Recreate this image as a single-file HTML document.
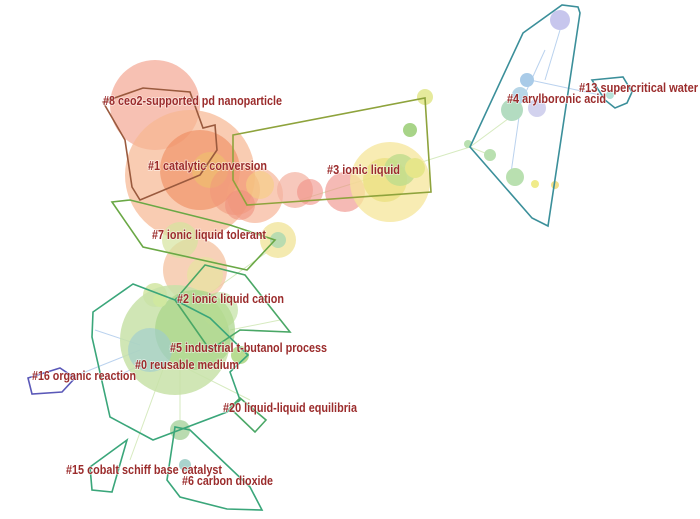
<!DOCTYPE html>
<html><head><meta charset="utf-8"><style>
html,body{margin:0;padding:0;background:#fff;}
svg{display:block}
text.l{font-family:"Liberation Sans",sans-serif;font-weight:bold;font-size:12.5px;fill:#9b2c2c;stroke:#ffffff;stroke-width:1.5px;stroke-opacity:0.6;paint-order:stroke;}
</style></head><body>
<svg width="700" height="519" viewBox="0 0 700 519" xmlns="http://www.w3.org/2000/svg">
<g stroke="#cde6b0" stroke-width="1" opacity="0.8" fill="none">
<line x1="300" y1="200" x2="470" y2="147"/>
<line x1="470" y1="147" x2="520" y2="110"/>
<line x1="470" y1="147" x2="490" y2="155"/>
<line x1="200" y1="300" x2="270" y2="250"/>
<line x1="230" y1="330" x2="280" y2="320"/>
<line x1="180" y1="360" x2="180" y2="430"/>
<line x1="170" y1="350" x2="130" y2="460"/>
<line x1="190" y1="370" x2="250" y2="400"/>
</g>
<g stroke="#a9c7ea" stroke-width="1" opacity="0.8" fill="none">
<line x1="140" y1="350" x2="70" y2="378"/>
<line x1="140" y1="345" x2="95" y2="330"/>
<line x1="150" y1="360" x2="110" y2="380"/>
<line x1="545" y1="50" x2="520" y2="105"/>
<line x1="560" y1="30" x2="545" y2="80"/>
<line x1="530" y1="80" x2="600" y2="95"/>
<line x1="520" y1="110" x2="510" y2="180"/>
</g>
<g>
<circle cx="155" cy="105" r="45" fill="#f3a08a" opacity="0.65"/>
<circle cx="190" cy="175" r="65" fill="#f6b792" opacity="0.7"/>
<circle cx="200" cy="170" r="40" fill="#ef8a5e" opacity="0.6"/>
<circle cx="210" cy="170" r="18" fill="#eec26a" opacity="0.6"/>
<circle cx="235" cy="190" r="25" fill="#f0977a" opacity="0.55"/>
<circle cx="255" cy="195" r="28" fill="#f4a07c" opacity="0.55"/>
<circle cx="260" cy="185" r="14" fill="#f5cf80" opacity="0.6"/>
<circle cx="240" cy="205" r="15" fill="#ee8e7b" opacity="0.55"/>
<circle cx="295" cy="190" r="18" fill="#f3b0a0" opacity="0.7"/>
<circle cx="310" cy="192" r="13" fill="#f08f86" opacity="0.6"/>
<circle cx="345" cy="192" r="20" fill="#ee8c84" opacity="0.6"/>
<circle cx="390" cy="182" r="40" fill="#f6e59a" opacity="0.75"/>
<circle cx="385" cy="180" r="22" fill="#eadf7c" opacity="0.7"/>
<circle cx="400" cy="170" r="16" fill="#bedc8c" opacity="0.8"/>
<circle cx="425" cy="97" r="8" fill="#e6ea9c"/>
<circle cx="415" cy="168" r="10" fill="#e6e68a"/>
<circle cx="278" cy="240" r="18" fill="#f2e6a2" opacity="0.85"/>
<circle cx="278" cy="240" r="8" fill="#b9dcb0"/>
<circle cx="195" cy="270" r="32" fill="#f4c2a0" opacity="0.75"/>
<circle cx="205" cy="275" r="18" fill="#e7e4a0" opacity="0.7"/>
<circle cx="180" cy="240" r="18" fill="#d6e49e" opacity="0.7"/>
<circle cx="155" cy="295" r="12" fill="#cfe59c" opacity="0.8"/>
<circle cx="175" cy="340" r="55" fill="#c8e2a8" opacity="0.85"/>
<circle cx="195" cy="330" r="40" fill="#a8d487" opacity="0.7"/>
<circle cx="150" cy="350" r="22" fill="#9ccbd2" opacity="0.6"/>
<circle cx="220" cy="310" r="18" fill="#b8dc92" opacity="0.6"/>
<circle cx="240" cy="355" r="9" fill="#b8dc92"/>
<circle cx="180" cy="430" r="10" fill="#b9dbb0"/>
<circle cx="185" cy="465" r="6" fill="#a9d3cd"/>
<circle cx="160" cy="300" r="7" fill="#d0e8a0"/>
<circle cx="410" cy="130" r="7" fill="#a8d488"/>
<circle cx="512" cy="110" r="11" fill="#b3dcc1"/>
<circle cx="527" cy="80" r="7" fill="#a9cbe8"/>
<circle cx="520" cy="95" r="8" fill="#b7d6e8"/>
<circle cx="490" cy="155" r="6" fill="#b9e0b0"/>
<circle cx="515" cy="177" r="9" fill="#b9e0b0"/>
<circle cx="535" cy="184" r="4" fill="#f0eb8a"/>
<circle cx="555" cy="185" r="4" fill="#f3e08a"/>
<circle cx="468" cy="144" r="4" fill="#b9e0b0"/>
<circle cx="560" cy="20" r="10" fill="#b9b8e8" opacity="0.8"/>
<circle cx="537" cy="108" r="9" fill="#c7c7ea" opacity="0.8"/>
<circle cx="610" cy="95" r="4" fill="#b5e1d8"/>
</g>
<g fill="none" stroke-width="1.6">
<polygon points="103,102 143,88 190,92 203,128 215,125 217,150 200,175 140,200 132,187 125,140" stroke="#9a5a3e"/>
<polygon points="233,135 425,98 431,192 247,205 233,180" stroke="#8ea33c"/>
<polygon points="112,202 143,247 247,270 275,240 230,225 130,200" stroke="#6aa845"/>
<polygon points="205,265 245,275 290,332 240,330 210,350 175,300" stroke="#4aa766"/>
<polygon points="133,284 175,300 210,318 248,355 230,372 240,400 227,412 153,440 110,417 92,337 93,312" stroke="#3aa67a"/>
<polygon points="28,378 60,368 75,378 62,392 32,394" stroke="#5a58b8"/>
<polygon points="240,398 266,420 255,432 230,408" stroke="#4aa766"/>
<polygon points="127,440 90,467 92,490 112,492" stroke="#3aa67a"/>
<polygon points="175,427 167,480 180,497 227,509 262,510 250,487 190,430" stroke="#3aa67a"/>
<polygon points="523,33 562,5 578,7 580,13 548,226 532,218 470,147" stroke="#3b8f9a"/>
<polygon points="592,80 623,77 632,92 627,103 615,108 605,100" stroke="#3b8f9a"/>
</g>
<text class="l" x="103" y="105" textLength="179" lengthAdjust="spacingAndGlyphs">#8 ceo2-supported pd nanoparticle</text>
<text class="l" x="148" y="170" textLength="119" lengthAdjust="spacingAndGlyphs">#1 catalytic conversion</text>
<text class="l" x="327" y="174" textLength="73" lengthAdjust="spacingAndGlyphs">#3 ionic liquid</text>
<text class="l" x="152" y="239" textLength="114" lengthAdjust="spacingAndGlyphs">#7 ionic liquid tolerant</text>
<text class="l" x="177" y="303" textLength="107" lengthAdjust="spacingAndGlyphs">#2 ionic liquid cation</text>
<text class="l" x="170" y="352" textLength="157" lengthAdjust="spacingAndGlyphs">#5 industrial t-butanol process</text>
<text class="l" x="135" y="369" textLength="104" lengthAdjust="spacingAndGlyphs">#0 reusable medium</text>
<text class="l" x="32" y="380" textLength="104" lengthAdjust="spacingAndGlyphs">#16 organic reaction</text>
<text class="l" x="223" y="412" textLength="134" lengthAdjust="spacingAndGlyphs">#20 liquid-liquid equilibria</text>
<text class="l" x="66" y="474" textLength="156" lengthAdjust="spacingAndGlyphs">#15 cobalt schiff base catalyst</text>
<text class="l" x="182" y="485" textLength="91" lengthAdjust="spacingAndGlyphs">#6 carbon dioxide</text>
<text class="l" x="507" y="103" textLength="99" lengthAdjust="spacingAndGlyphs">#4 arylboronic acid</text>
<text class="l" x="579" y="92" textLength="119" lengthAdjust="spacingAndGlyphs">#13 supercritical water</text>
</svg>
</body></html>
